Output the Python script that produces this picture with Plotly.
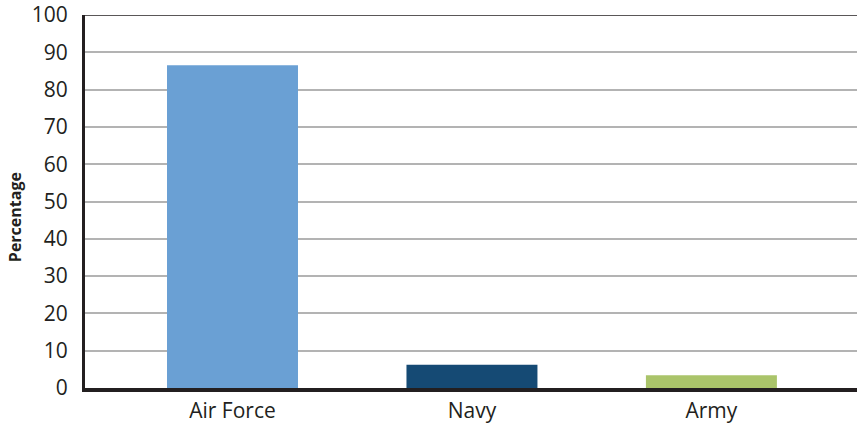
import plotly.graph_objects as go

categories = ["Air Force", "Navy", "Army"]
values = [86.5, 6.2, 3.4]
colors = ["#6aa0d4", "#154a74", "#aac46a"]
y_ticks = [0, 10, 20, 30, 40, 50, 60, 70, 80, 90, 100]

fig = go.Figure()
fig.add_trace(go.Bar(
    x=categories, y=values, marker_color=colors, marker_line_width=0,
    width=0.547,
))

font_family = "Open Sans, Noto Sans, sans-serif"
fig.update_layout(
    width=857, height=424,
    margin=dict(l=85, r=0, t=12, b=34),
    plot_bgcolor="white", paper_bgcolor="white",
    showlegend=False,
    font=dict(family=font_family, size=21, color="#231f20"),
)
fig.update_xaxes(
    range=[-0.616, 2.608],
    showline=True, linewidth=3.5, linecolor="#231f20",
    showgrid=False, ticks="", tickfont=dict(size=21),
    ticklabelstandoff=1,
)
fig.update_yaxes(
    range=[0, 100], tickvals=y_ticks,
    showline=True, linewidth=3, linecolor="#231f20",
    showgrid=True, gridcolor="#b3b3b3", gridwidth=1.5,
    ticks="", ticklen=0, tickfont=dict(size=21),
    ticklabelstandoff=10, ticklabeloverflow="allow",
    zeroline=False,
)
fig.add_shape(type="line", xref="paper", yref="y", x0=0, x1=1, y0=100, y1=100,
              line=dict(color="#231f20", width=1.5), layer="above")
fig.add_annotation(
    text="<b>Percentage</b>", textangle=-90, showarrow=False,
    xref="paper", yref="paper", x=-0.0907, y=0.458,
    xanchor="center", yanchor="middle",
    font=dict(size=16, family=font_family, color="#231f20"),
)

fig.write_html("out.html")
